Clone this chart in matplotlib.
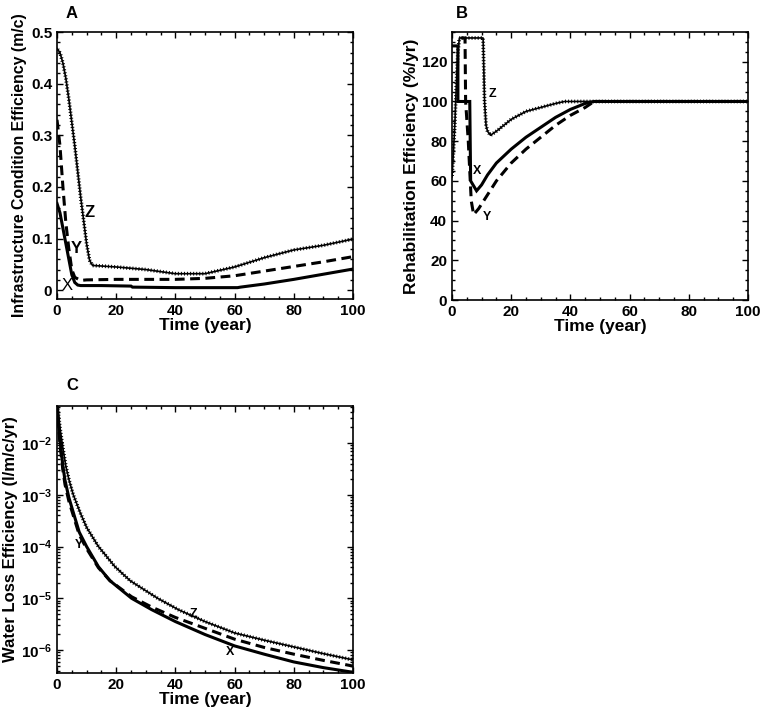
import numpy as np
import matplotlib
matplotlib.use('Agg')
import matplotlib.pyplot as plt
import matplotlib.patheffects as pe
from matplotlib.ticker import MultipleLocator, LogLocator, FuncFormatter, NullFormatter

plt.rcParams['font.family'] = 'Liberation Sans'
plt.rcParams['font.weight'] = 'bold'
plt.rcParams['axes.labelweight'] = 'bold'
plt.rcParams['mathtext.fontset'] = 'custom'
plt.rcParams['mathtext.rm'] = 'Liberation Sans:bold'
plt.rcParams['mathtext.bf'] = 'Liberation Sans:bold'

# ---------- Panel A : infrastructure condition efficiency ----------
a_t_x = [0, 1, 2, 3, 4, 5, 6, 7, 8, 15, 25, 25.5, 40, 61, 62, 70, 80, 90, 100]
a_x = [0.168, 0.15, 0.12, 0.09, 0.06, 0.03, 0.015, 0.01, 0.009, 0.009, 0.008, 0.006,
       0.005, 0.005, 0.006, 0.012, 0.021, 0.031, 0.041]
a_t_y = [0, 1, 2, 3, 4, 5, 6, 8, 10, 20, 30, 40, 50, 60, 70, 80, 90, 100]
a_y = [0.33, 0.28, 0.2, 0.13, 0.08, 0.04, 0.025, 0.019, 0.02, 0.021, 0.021, 0.021,
       0.023, 0.028, 0.037, 0.046, 0.055, 0.065]
a_t_z = [0, 1, 2, 3, 4, 6, 8, 10, 11, 12, 20, 30, 40, 50, 60, 70, 80, 90, 100]
a_z = [0.468, 0.46, 0.44, 0.41, 0.37, 0.28, 0.18, 0.09, 0.058, 0.048, 0.045, 0.04,
       0.032, 0.032, 0.045, 0.063, 0.078, 0.087, 0.099]

# ---------- Panel B : rehabilitation efficiency ----------
b_t_x = [0.3, 2, 2, 6, 6.3, 8.3, 10, 12, 15, 20, 25, 30, 35, 40, 45, 48, 100]
b_x = [128, 128, 100, 100, 60, 55, 58, 63, 69, 76, 82, 87, 92, 96, 99, 100, 100]
b_t_y = [3, 4.4, 4.6, 5.5, 6.5, 7.3, 9, 12, 15, 20, 25, 30, 35, 40, 45, 48, 100]
b_y = [132, 132, 100, 80, 50, 43, 46, 53, 60, 69, 76, 82, 88, 93, 97, 100, 100]
b_t_z = [0, 0.5, 1, 1.5, 2, 2.5, 10.5, 11, 11.5, 12, 13, 15, 20, 25, 30, 35, 38, 100]
b_z = [62, 75, 90, 110, 125, 132, 132, 100, 88, 85, 83, 85, 91, 95, 97, 99, 100, 100]

# ---------- Panel C : water loss efficiency (log10 values) ----------
c_t_x = [0, 0.5, 1, 2, 2.7, 4, 5.5, 7.5, 10, 14, 17.9, 25.2, 32, 40, 50, 60, 70, 80, 90, 100]
c_x = [-1.2, -1.6, -1.95, -2.45, -2.72, -3.05, -3.34, -3.72, -4.0, -4.39, -4.66, -5.0,
       -5.22, -5.45, -5.7, -5.92, -6.08, -6.23, -6.34, -6.43]
c_t_y = [0, 0.5, 1, 2, 2.7, 4, 5.5, 7.5, 10, 14, 17.9, 25.2, 32, 40, 50, 60, 70, 80, 90, 100]
c_y = [-1.2, -1.65, -2.02, -2.53, -2.8, -3.12, -3.4, -3.77, -4.04, -4.41, -4.66, -4.97,
       -5.17, -5.37, -5.58, -5.79, -5.95, -6.08, -6.2, -6.31]
c_t_z = [0, 0.5, 1, 2, 3, 4.1, 5.5, 7.8, 10, 14, 19.6, 24.7, 34, 41, 50, 60, 70, 80, 90, 100]
c_z = [-1.2, -1.45, -1.7, -2.1, -2.45, -2.72, -3.0, -3.34, -3.63, -4.0, -4.39, -4.66,
       -5.0, -5.22, -5.45, -5.67, -5.81, -5.94, -6.07, -6.19]

tick_fs = 11

fig = plt.figure(figsize=(7.65, 7.19), dpi=100)
axA = fig.add_axes([57/765, 1-299/719, 296/765, 267/719])
axB = fig.add_axes([452/765, 1-300/719, 296/765, 268/719])
axC = fig.add_axes([57/765, 1-673/719, 296/765, 267/719])

z_effects = [pe.Stroke(linewidth=1.2, foreground='black'),
             pe.TickedStroke(spacing=2.2, angle=90, length=0.45, linewidth=0.7),
             pe.TickedStroke(spacing=2.2, angle=-90, length=0.45, linewidth=0.7)]


def draw_lines(ax, tx, vx, ty, vy, tz, vz):
    ax.plot(tx, vx, color='black', lw=2.2, solid_joinstyle='miter')
    ax.plot(ty, vy, color='black', lw=2.2, ls=(0, (3.2, 1.8)))
    ax.plot(tz, vz, color='black', lw=1.2, path_effects=z_effects)


def style(ax):
    ax.tick_params(which='both', direction='in', top=True, right=True,
                   labelsize=tick_fs, width=1)
    ax.tick_params(which='major', length=4.5)
    ax.tick_params(which='minor', length=2.5)
    for s in ax.spines.values():
        s.set_linewidth(1.2)
    for lab in ax.get_xticklabels() + ax.get_yticklabels():
        lab.set_fontweight('bold')
    ax.set_xlim(0, 100)
    ax.xaxis.set_major_locator(MultipleLocator(20))
    ax.xaxis.set_minor_locator(MultipleLocator(5))
    ax.set_xlabel('Time (year)', fontsize=12.5, labelpad=0)


# Panel A
draw_lines(axA, a_t_x, a_x, a_t_y, a_y, a_t_z, a_z)
axA.set_ylim(-0.017, 0.5)
axA.yaxis.set_major_locator(MultipleLocator(0.1))
axA.yaxis.set_minor_locator(MultipleLocator(0.02))
axA.yaxis.set_major_formatter(FuncFormatter(lambda v, p: '0' if abs(v) < 1e-9 else '%.1f' % v))
style(axA)
axA.set_ylabel('Infrastructure Condition Efficiency (m/c)', fontsize=11.4, labelpad=3)
axA.text(11.1, 0.151, 'Z', fontsize=12, fontweight='bold', ha='center', va='center')
axA.text(6.4, 0.081, 'Y', fontsize=12, fontweight='bold', ha='center', va='center')
axA.text(3.3, 0.01, 'X', fontsize=12, fontweight='normal', ha='center', va='center')
fig.text(72/765, 1-13/719, 'A', fontsize=12, fontweight='bold', ha='center', va='center')

# Panel B
draw_lines(axB, b_t_x, b_x, b_t_y, b_y, b_t_z, b_z)
axB.set_ylim(0, 135)
axB.yaxis.set_major_locator(MultipleLocator(20))
axB.yaxis.set_minor_locator(MultipleLocator(5))
style(axB)
axB.set_ylabel('Rehabilitation Efficiency (%/yr)', fontsize=12.5, labelpad=2)
axB.text(13.5, 104, 'Z', fontsize=9, ha='center', va='center')
axB.text(8.4, 65, 'X', fontsize=9, ha='center', va='center')
axB.text(11.8, 42, 'Y', fontsize=9, ha='center', va='center')
fig.text(462/765, 1-13/719, 'B', fontsize=12, fontweight='bold', ha='center', va='center')

# Panel C
draw_lines(axC, c_t_x, 10**np.array(c_x), c_t_y, 10**np.array(c_y), c_t_z, 10**np.array(c_z))
axC.set_yscale('log')
axC.set_ylim(3.6e-7, 0.052)
axC.yaxis.set_major_locator(LogLocator(base=10, numticks=20))
axC.yaxis.set_minor_locator(LogLocator(base=10, subs=np.arange(2, 10), numticks=20))
axC.yaxis.set_minor_formatter(NullFormatter())
axC.yaxis.set_major_formatter(FuncFormatter(lambda v, p: r'$\mathbf{10^{%d}}$' % round(np.log10(v))))
style(axC)
axC.set_ylabel('Water Loss Efficiency (l/m/c/yr)', fontsize=12, labelpad=2)
axC.text(7.4, 1.07e-4, 'Y', fontsize=9, ha='center', va='center')
axC.text(46, 5e-6, 'Z', fontsize=9, ha='center', va='center')
axC.text(58.4, 9.3e-7, 'X', fontsize=9, ha='center', va='center')
fig.text(72/765, 1-385/719, 'C', fontsize=12, fontweight='bold', ha='center', va='center')

fig.savefig('out.png', dpi=100)
